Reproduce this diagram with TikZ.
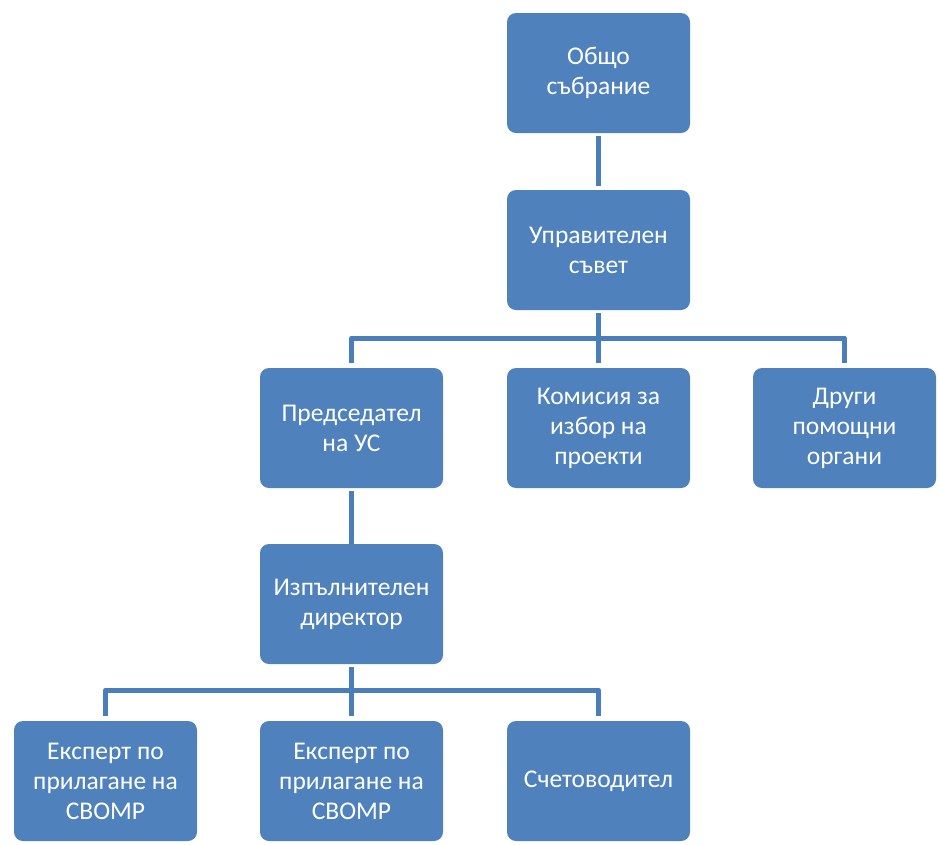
\documentclass[tikz,border=0pt]{standalone}
\usepackage{fontspec}
\setmainfont{Carlito}
\definecolor{boxblue}{HTML}{4F81BD}
\definecolor{lineblue}{HTML}{4A7EBB}
\begin{document}
\begin{tikzpicture}[x=1pt,y=-1pt,
  orgbox/.style={fill=boxblue, rounded corners=9pt, minimum width=183pt, minimum height=120pt,
    inner sep=2pt, text=white, align=flush center, text width=179pt,
    font=\fontsize{25.5}{30}\selectfont},
  conn/.style={draw=lineblue, line width=5pt}]
\useasboundingbox (0,0) rectangle (939,844);
\node[orgbox] (gen) at (598.5,73) {Общо\\събрание};
\node[orgbox] (board) at (598.5,250) {Управителен\\съвет};
\node[orgbox] (chair) at (351.5,428) {Председател\\на УС};
\node[orgbox] (comm) at (598.5,428) {Комисия за\\избор на\\проекти};
\node[orgbox] (other) at (844.5,428) {Други\\помощни\\органи};
\node[orgbox] (dir) at (351.5,604) {Изпълнителен\\директор};
\node[orgbox] (exp1) at (105.5,781) {Експерт по\\прилагане на\\СВОМР};
\node[orgbox] (exp2) at (351.5,781) {Експерт по\\прилагане на\\СВОМР};
\node[orgbox] (acc) at (598.5,781) {Счетоводител};
\coordinate (busA) at (598.5,338);
\coordinate (busB) at (351.5,690);
% connectors
\draw[conn, shorten <=3pt, shorten >=4pt] (gen.south) -- (board.north);
\draw[conn, shorten <=3pt] (board.south) -- (busA);
\draw[conn, shorten >=5pt, line join=round] (busA) -| (chair.north);
\draw[conn, shorten >=5pt] (busA) -- (comm.north);
\draw[conn, shorten >=5pt, line join=round] (busA) -| (other.north);
\draw[conn, shorten <=3pt] (chair.south) -- (dir.north);
\draw[conn, shorten <=3pt] (dir.south) -- (busB);
\draw[conn, shorten >=5pt, line join=round] (busB) -| (exp1.north);
\draw[conn, shorten >=5pt] (busB) -- (exp2.north);
\draw[conn, shorten >=5pt, line join=round] (busB) -| (acc.north);
\end{tikzpicture}
\end{document}
